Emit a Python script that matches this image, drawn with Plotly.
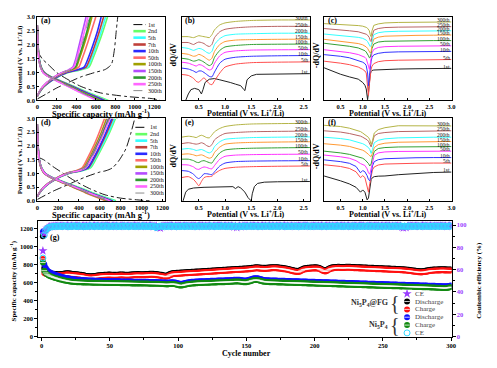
import plotly.graph_objects as go

W, H = 497, 368
FONT = "Liberation Serif"


def fx(p):
    return p / W


def fy(p):
    return 1 - p / H


# ---------------- (a) and (d): charge / discharge profiles ----------------
cycles_ad = ["1st", "2nd", "5th", "7th", "10th", "50th", "100th", "150th", "200th", "250th", "300th"]
colors_ad = ["#000000", "#66ff66", "#33ffff", "#c0403a", "#2a2aff", "#ff6a6a",
             "#a0a000", "#b44cff", "#2e9a2e", "#ff66ff", "#8c8c8c"]

chg_v = [0.15, 0.3, 0.5, 0.8, 1.0, 1.1, 1.2, 1.5, 2.0, 2.5, 3.0]
a_dis_v = [2.7, 2.0, 1.5, 1.2, 1.0, 0.85, 0.7, 0.5, 0.3, 0.15, 0.0]
d_dis_v = [2.8, 2.0, 1.5, 1.2, 1.0, 0.85, 0.7, 0.5, 0.3, 0.15, 0.0]

a_first_chg_cap = [0, 100, 200, 320, 450, 585, 700, 760, 790, 810, 825]
a_first_chg_v = [0.05, 0.25, 0.45, 0.65, 0.85, 1.0, 1.12, 1.3, 1.8, 2.5, 3.0]
a_first_dis_cap = [0, 50, 110, 200, 300, 450, 650, 920, 1190, 1260]
a_first_dis_v = [1.8, 1.5, 1.3, 1.0, 0.78, 0.5, 0.27, 0.14, 0.06, 0.0]

a_chg_caps = [
    [0, 25, 70, 185, 310, 440, 530, 570, 625, 675, 720],
    [0, 25, 70, 183, 305, 430, 515, 555, 610, 658, 700],
    [0, 24, 68, 180, 300, 420, 500, 540, 592, 638, 680],
    [0, 23, 66, 176, 292, 405, 480, 520, 572, 618, 655],
    [0, 21, 62, 165, 272, 365, 425, 460, 510, 555, 600],
    [0, 20, 60, 160, 262, 345, 400, 432, 480, 522, 560],
    [0, 19, 57, 155, 250, 322, 365, 395, 430, 465, 500],
    [0, 20, 59, 158, 258, 338, 390, 422, 468, 510, 545],
    [0, 19, 57, 155, 252, 328, 375, 405, 445, 485, 520],
    [0, 20, 58, 157, 256, 334, 385, 415, 458, 498, 535],
]
a_dis_caps = [
    [0, 8, 20, 40, 75, 140, 240, 380, 510, 620, 730],
    [0, 8, 20, 40, 73, 138, 235, 370, 500, 605, 710],
    [0, 8, 19, 38, 72, 135, 230, 362, 490, 592, 695],
    [0, 7, 18, 37, 70, 132, 225, 355, 480, 580, 680],
    [0, 7, 17, 35, 65, 125, 215, 338, 455, 550, 645],
    [0, 7, 17, 35, 65, 125, 215, 340, 458, 555, 650],
    [0, 7, 16, 33, 62, 120, 205, 325, 440, 532, 625],
    [0, 7, 17, 34, 63, 122, 210, 330, 445, 540, 635],
    [0, 6, 16, 33, 60, 118, 200, 318, 430, 520, 610],
    [0, 7, 17, 34, 63, 122, 208, 328, 442, 535, 628],
]

d_first_chg_cap = [0, 150, 300, 450, 600, 660, 720, 780, 850, 900, 935]
d_first_chg_v = [0.05, 0.35, 0.6, 0.85, 1.05, 1.1, 1.2, 1.45, 1.9, 2.5, 3.0]
d_first_dis_cap = [0, 60, 150, 250, 350, 500, 650, 800, 950, 1080]
d_first_dis_v = [1.6, 1.5, 1.25, 1.0, 0.75, 0.45, 0.22, 0.1, 0.04, 0.0]

d_chg_caps = [
    [0, 25, 70, 185, 305, 430, 510, 560, 630, 695, 750],
    [0, 25, 70, 183, 300, 425, 500, 550, 620, 685, 740],
    [0, 24, 68, 180, 295, 415, 490, 540, 608, 670, 725],
    [0, 23, 66, 178, 290, 410, 482, 532, 600, 660, 715],
    [0, 21, 62, 168, 272, 370, 430, 475, 540, 595, 645],
    [0, 21, 62, 170, 278, 382, 445, 492, 558, 615, 665],
    [0, 21, 63, 172, 282, 390, 455, 503, 570, 628, 680],
    [0, 21, 63, 173, 284, 393, 460, 508, 576, 634, 688],
    [0, 21, 64, 174, 286, 397, 465, 514, 583, 642, 697],
    [0, 21, 63, 173, 284, 394, 462, 510, 578, 636, 692],
]
d_dis_caps = [
    [0, 8, 20, 42, 78, 145, 250, 395, 530, 640, 755],
    [0, 8, 20, 41, 77, 143, 246, 388, 520, 628, 742],
    [0, 8, 19, 40, 75, 140, 240, 378, 508, 614, 725],
    [0, 8, 19, 40, 74, 138, 236, 372, 500, 605, 715],
    [0, 7, 17, 36, 67, 127, 217, 343, 460, 557, 658],
    [0, 7, 18, 37, 69, 130, 222, 350, 470, 570, 672],
    [0, 7, 18, 38, 71, 133, 228, 360, 482, 584, 690],
    [0, 7, 18, 38, 71, 134, 229, 362, 485, 588, 695],
    [0, 7, 18, 39, 72, 136, 232, 366, 491, 594, 702],
    [0, 7, 18, 38, 71, 134, 230, 363, 487, 590, 698],
]

# ---------------- (b),(c),(e),(f): dQ/dV curves (offset, a.u.) ----------------
cycles_dq = ["1st", "5th", "10th", "50th", "100th", "150th", "200th", "250th", "300th"]
colors_dq = ["#222222", "#ff4d4d", "#3333ff", "#ff33ff", "#33a033", "#ff9933",
             "#33ffff", "#b86464", "#b4b446"]

grid_be = [0.17, 0.3, 0.4, 0.45, 0.5, 0.55, 0.6, 0.65, 0.7, 0.75, 0.8, 0.9, 1.0, 1.2, 1.5, 2.0, 2.62]
b_first_v = [0.25, 0.3, 0.35, 0.42, 0.5, 0.55, 0.58, 0.62, 0.7, 0.8, 0.9, 1.0, 1.1, 1.2,
             1.3, 1.36, 1.38, 1.42, 1.5, 1.6, 2.0, 2.62]
b_first_y = [0, 6.6, 11, 12.3, 11, 6.6, 11, 18.3, 21.6, 22.3, 21, 20, 18.3, 16.6,
             15, 11, 10, 21, 25, 26.6, 27, 27.3]
b_curves = [
    [26.5, 25.5, 22.5, 19.5, 18.5, 21, 23, 20, 17, 16, 20, 28, 34, 37, 38.5, 39, 39.3],
    [33, 32, 30, 28.5, 30, 30, 28.5, 26.5, 24.5, 24, 29, 38, 42, 44, 45, 45.5, 45.8],
    [39, 38, 36, 35, 36.5, 36, 34.5, 32.5, 31, 32, 38, 45.5, 49, 50.5, 51.3, 51.6, 51.8],
    [43, 42, 40, 40.5, 41.5, 40.5, 39, 37, 35.5, 37, 44, 51, 54.5, 56, 57, 57.3, 57.5],
    [48, 47, 45, 45.5, 47, 46, 44.5, 42.5, 41, 43, 50, 57, 60, 61.5, 62, 62.3, 62.5],
    [54, 53, 51, 52, 53, 52.5, 51, 49, 48, 50, 57, 63, 66, 67.5, 68, 68.5, 68.5],
    [59, 59, 57, 58.5, 59.5, 59, 58, 56, 55, 57, 64, 70, 72.5, 74, 75, 75.5, 75.5],
    [65, 65, 64, 65, 66, 65.5, 65, 64.5, 64, 67, 72, 77, 79, 80.5, 81.5, 82, 82],
]

e_first_v = [0.2, 0.25, 0.3, 0.4, 0.6, 0.8, 1.0, 1.15, 1.2, 1.25, 1.3, 1.38, 1.44, 1.5,
             1.52, 1.56, 1.62, 1.75, 2.0, 2.62]
e_first_y = [0, 9, 12, 13.3, 14, 14, 14.3, 14.7, 12.7, 14.7, 13.3, 9, 3.3, 0,
             7.3, 14.7, 18, 19.3, 19.7, 20]
e_curves = [
    [24, 25, 22, 19, 15.5, 20, 24, 25, 25, 25.5, 28, 31.5, 33.5, 34.7, 35.3, 35.7, 36],
    [31.3, 30.5, 27.5, 24.5, 23, 25, 28, 28, 27.5, 27, 30, 36, 39, 40.5, 41, 41.3, 41.5],
    [37.3, 37, 35, 33, 32.5, 34, 35, 34.5, 33.5, 33, 36.5, 43, 46, 47.2, 47.7, 48, 48.2],
    [43, 43, 41.5, 40, 39.5, 41, 41.5, 40.5, 39.5, 39, 43, 49.5, 52.5, 53.7, 54.3, 54.7, 55],
    [48, 48.5, 47.5, 46.5, 47, 47.5, 46.5, 45, 44, 45, 50, 55.5, 58.5, 59.7, 60.3, 60.7, 61],
    [53.3, 54, 53, 52, 52.5, 53, 52, 50.5, 49.5, 51, 56, 61, 63.5, 64.5, 65.3, 65.7, 66],
    [59, 60, 59, 58.5, 59, 60, 59, 57, 56, 58, 63, 67, 69.5, 70.5, 71.3, 71.7, 72],
    [65.7, 66.7, 66, 65.3, 66.7, 67.7, 66.7, 65.3, 65, 68, 71.3, 74.7, 76.7, 78.3, 79.3, 79.7, 80],
]

grid_c = [0.13, 0.3, 0.5, 0.7, 0.9, 1.0, 1.05, 1.08, 1.11, 1.13, 1.15, 1.17, 1.19, 1.21,
          1.25, 1.35, 1.5, 1.8, 2.2, 2.6, 3.0]
c_curves = [
    [33.3, 30, 26.7, 24, 21.7, 18.3, 15.5, 11.7, 0.7, 8, 22, 27, 29.5, 30.5, 31, 31.3, 31.7, 32, 32.3, 32.5, 32.7],
    [40, 39.2, 38, 36.5, 34, 31.7, 30, 28, 15, 5, 16, 27, 32, 35, 37.5, 39.5, 40.5, 41, 41.3, 41.5, 41.7],
    [46.7, 46, 45, 43.5, 41, 39, 37.5, 35.5, 28, 15, 25, 35, 40, 44, 46.5, 48, 49, 49.5, 49.8, 50, 50],
    [51.7, 51, 50, 48.7, 46.8, 45, 44, 42.5, 39, 35, 31.7, 36, 43, 48.5, 52, 54, 54.8, 55.2, 55.5, 55.7, 55.7],
    [58.3, 57.5, 56.5, 55.2, 53.5, 51.7, 50.7, 49.3, 47.5, 45.5, 43.5, 44, 48, 53, 57.5, 59.5, 60.3, 60.7, 61, 61, 61],
    [62.3, 61.5, 60.5, 59.5, 58, 56.7, 55.8, 54.5, 53, 51, 49, 48.3, 50, 57, 62.5, 64.5, 65.5, 66, 66.3, 66.5, 66.7],
    [67.7, 67, 66.2, 65.3, 64.3, 63.3, 62.5, 61.5, 60, 58.5, 56.5, 55, 56, 61, 67, 69, 70, 70.5, 70.8, 71, 71],
    [73.3, 72.8, 72, 71, 70, 69, 68.5, 67.5, 66.5, 65.5, 64, 61, 60, 65, 71.5, 73.3, 74.3, 74.7, 75, 75, 75.2],
    [78.3, 78, 77.5, 77, 76.3, 75.7, 75.2, 74.5, 73.5, 72.5, 71, 67, 65, 71, 76.5, 78, 79, 79.5, 79.8, 80, 80],
]

grid_f = [0.13, 0.3, 0.5, 0.7, 0.85, 0.95, 1.0, 1.05, 1.1, 1.13, 1.16, 1.19, 1.22, 1.26,
          1.35, 1.5, 1.8, 2.2, 2.6, 3.0]
f_curves = [
    [25.7, 23.5, 20.7, 17.5, 14, 9, 11.3, 9, 1, 3, 15, 22, 24, 25, 25.5, 25.7, 27, 28.5, 29.3, 29.7],
    [37.3, 36.7, 35.5, 33.5, 30, 24, 26, 24, 15, 9, 18, 27, 32, 35, 37, 38, 38.5, 38.8, 39, 39],
    [42.3, 41.7, 40.5, 38.8, 35.5, 29, 31.3, 30, 26, 22, 20.7, 28, 36, 40.5, 42.5, 43.5, 44.2, 44.5, 44.7, 44.7],
    [47.3, 46.7, 45.5, 44, 41.5, 38.5, 37.3, 36.5, 33, 29, 27.5, 34, 42, 47, 49.5, 50.5, 51, 51.2, 51.3, 51.3],
    [51.3, 50.7, 49.5, 48, 46.3, 45, 44, 42.5, 40.5, 38.5, 36, 38, 45, 51, 54, 55, 55.6, 55.8, 56, 56],
    [59, 58.5, 57.5, 56.2, 54.5, 53.3, 52.3, 51, 49.5, 48, 46.5, 45.7, 49, 55, 58, 59.5, 60.5, 61, 61.2, 61.3],
    [65.7, 65.2, 64.3, 63, 61.3, 60, 59, 57.8, 56.5, 55, 53, 49, 53, 60, 62.5, 64, 65, 65.5, 65.7, 65.7],
    [72.3, 71.8, 71, 69.5, 68, 66.8, 65.7, 64.5, 63, 61.5, 59, 55.7, 60, 67, 69.5, 70.5, 71.5, 72, 72.2, 72.3],
    [78, 77.5, 76.7, 75, 73, 71.5, 70, 68.5, 67, 65.5, 63, 58, 62, 70, 73.5, 75.5, 77.5, 77.5, 77.3, 77.3],
]

# ---------------- (g): cycling performance ----------------
fg_discharge = [
    1110, 760, 730, 715, 708, 702, 699, 697, 695, 693,
    693, 691, 690, 692, 694, 696, 698, 700, 702, 700,
    698, 696, 694, 692, 691, 690, 688, 686, 684, 682,
    678, 674, 672, 670, 668, 667, 668, 670, 672, 674,
    676, 678, 680, 682, 683, 684, 685, 686, 687, 687,
    686, 685, 684, 684, 685, 686, 687, 688, 688, 687,
    686, 685, 685, 686, 687, 688, 689, 690, 691, 692,
    692, 691, 690, 690, 691, 692, 693, 694, 695, 696,
    696, 695, 694, 692, 690, 688, 686, 684, 680, 676,
    674, 677, 684, 692, 698, 702, 704, 705, 706, 707,
    708, 709, 710, 711, 712, 713, 714, 715, 716, 717,
    718, 719, 720, 720, 721, 722, 723, 724, 725, 726,
    727, 728, 729, 730, 731, 732, 733, 734, 735, 736,
    737, 738, 739, 740, 741, 742, 743, 744, 745, 746,
    747, 748, 748, 749, 750, 751, 752, 753, 754, 755,
    756, 757, 759, 761, 763, 765, 767, 768, 766, 764,
    763, 762, 761, 761, 762, 764, 766, 767, 768, 769,
    769, 768, 767, 765, 763, 761, 759, 757, 754, 751,
    748, 744, 740, 736, 733, 730, 728, 727, 731, 739,
    747, 753, 757, 759, 761, 763, 764, 765, 766, 767,
    767, 766, 763, 757, 749, 741, 735, 733, 739, 749,
    757, 763, 767, 769, 771, 772, 773, 773, 772, 771,
    771, 772, 773, 774, 774, 773, 772, 771, 770, 769,
    769, 768, 767, 767, 766, 765, 765, 764, 763, 763,
    762, 761, 761, 760, 759, 759, 758, 757, 757, 756,
    755, 755, 754, 753, 753, 752, 751, 751, 750, 749,
    749, 748, 747, 746, 745, 744, 743, 741, 739, 737,
    735, 733, 731, 729, 727, 725, 724, 723, 724, 726,
    728, 731, 734, 737, 739, 741, 742, 743, 744, 744,
    745, 745, 746, 746, 745, 745, 744, 744, 743, 743,
]
fg_charge = [
    860, 705, 695, 690, 688, 685, 684, 683, 682, 680,
    681, 679, 678, 680, 682, 684, 686, 688, 690, 688,
    686, 684, 682, 680, 679, 678, 676, 674, 672, 670,
    666, 662, 660, 658, 656, 655, 656, 658, 660, 662,
    664, 666, 668, 670, 671, 672, 673, 674, 675, 675,
    674, 673, 672, 672, 673, 674, 675, 676, 676, 675,
    674, 673, 673, 674, 675, 676, 677, 678, 679, 680,
    680, 679, 678, 678, 679, 680, 681, 682, 683, 684,
    684, 683, 682, 680, 678, 676, 674, 672, 668, 664,
    662, 665, 672, 680, 686, 690, 692, 693, 694, 695,
    696, 697, 698, 699, 700, 701, 702, 703, 704, 705,
    706, 707, 708, 708, 709, 710, 711, 712, 713, 714,
    715, 716, 717, 718, 719, 720, 721, 722, 723, 724,
    725, 726, 727, 728, 729, 730, 731, 732, 733, 734,
    735, 736, 736, 737, 738, 739, 740, 741, 742, 743,
    744, 745, 747, 749, 751, 753, 755, 756, 754, 752,
    751, 750, 749, 749, 750, 752, 754, 755, 756, 757,
    757, 756, 755, 753, 751, 749, 747, 745, 742, 739,
    736, 732, 728, 724, 721, 718, 716, 715, 719, 727,
    735, 741, 745, 747, 749, 751, 752, 753, 754, 755,
    755, 754, 751, 745, 737, 729, 723, 721, 727, 737,
    745, 751, 755, 757, 759, 760, 761, 761, 760, 759,
    759, 760, 761, 762, 762, 761, 760, 759, 758, 757,
    757, 756, 755, 755, 754, 753, 753, 752, 751, 751,
    750, 749, 749, 748, 747, 747, 746, 745, 745, 744,
    743, 743, 742, 741, 741, 740, 739, 739, 738, 737,
    737, 736, 735, 734, 733, 732, 731, 729, 727, 725,
    723, 721, 719, 717, 715, 713, 712, 711, 712, 714,
    716, 719, 722, 725, 727, 729, 730, 731, 732, 732,
    733, 733, 734, 734, 733, 733, 732, 732, 731, 731,
]
np_discharge = [
    1160, 800, 762, 738, 722, 712, 704, 697, 690, 684,
    678, 673, 668, 664, 660, 656, 652, 648, 645, 642,
    640, 638, 636, 634, 632, 630, 629, 628, 627, 626,
    625, 624, 623, 622, 622, 621, 620, 620, 619, 619,
    618, 618, 617, 617, 616, 616, 615, 615, 615, 614,
    614, 613, 613, 613, 612, 612, 612, 611, 611, 611,
    610, 610, 610, 609, 609, 609, 608, 608, 608, 608,
    607, 607, 607, 607, 606, 606, 606, 606, 605, 605,
    605, 605, 604, 604, 603, 603, 602, 601, 600, 599,
    598, 597, 598, 600, 601, 601, 600, 598, 594, 590,
    586, 584, 585, 589, 593, 597, 600, 602, 604, 606,
    607, 608, 609, 610, 611, 612, 612, 613, 614, 614,
    615, 616, 616, 617, 617, 618, 619, 619, 620, 620,
    621, 621, 622, 622, 623, 624, 624, 625, 626, 627,
    628, 629, 630, 630, 628, 626, 624, 622, 621, 622,
    624, 628, 633, 638, 642, 645, 646, 645, 642, 638,
    634, 630, 627, 625, 624, 623, 622, 622, 621, 621,
    620, 620, 619, 619, 618, 618, 617, 617, 616, 616,
    615, 615, 614, 614, 613, 613, 612, 612, 611, 611,
    610, 610, 609, 609, 608, 608, 607, 607, 606, 606,
    605, 605, 604, 604, 603, 603, 602, 602, 601, 601,
    600, 600, 599, 599, 598, 598, 597, 597, 596, 596,
    595, 595, 594, 594, 593, 593, 592, 592, 591, 591,
    590, 590, 589, 589, 588, 588, 587, 587, 586, 586,
    585, 585, 584, 584, 583, 583, 582, 582, 581, 581,
    580, 580, 579, 579, 578, 578, 577, 577, 576, 576,
    575, 575, 574, 574, 573, 573, 572, 572, 571, 571,
    570, 570, 569, 569, 568, 568, 567, 567, 566, 566,
    565, 565, 564, 564, 563, 563, 562, 562, 561, 561,
    560, 559, 558, 557, 556, 556, 558, 561, 564, 567,
]
np_charge = [
    820, 730, 705, 690, 680, 672, 666, 660, 655, 650,
    645, 640, 636, 632, 628, 625, 622, 618, 615, 612,
    610, 608, 606, 605, 604, 603, 602, 601, 601, 600,
    600, 599, 599, 598, 598, 598, 597, 597, 597, 596,
    596, 596, 595, 595, 595, 594, 594, 594, 594, 593,
    593, 593, 593, 592, 592, 592, 592, 591, 591, 591,
    591, 590, 590, 590, 590, 589, 589, 589, 589, 588,
    588, 588, 588, 588, 587, 587, 587, 587, 586, 586,
    586, 586, 585, 585, 584, 584, 583, 582, 581, 580,
    579, 578, 579, 581, 582, 582, 581, 579, 575, 571,
    567, 565, 566, 570, 574, 578, 581, 583, 585, 587,
    588, 589, 590, 591, 592, 593, 593, 594, 595, 595,
    596, 597, 597, 598, 598, 599, 600, 600, 601, 601,
    602, 602, 603, 603, 604, 605, 605, 606, 607, 608,
    609, 610, 611, 611, 609, 607, 605, 603, 602, 603,
    605, 609, 614, 619, 623, 626, 627, 626, 623, 619,
    615, 611, 608, 606, 605, 604, 603, 603, 602, 602,
    601, 601, 600, 600, 599, 599, 598, 598, 597, 597,
    596, 596, 595, 595, 594, 594, 593, 593, 592, 592,
    591, 591, 590, 590, 589, 589, 588, 588, 587, 587,
    586, 586, 585, 585, 584, 584, 583, 583, 582, 582,
    581, 581, 580, 580, 579, 579, 578, 578, 577, 577,
    576, 576, 575, 575, 574, 574, 573, 573, 572, 572,
    571, 571, 570, 570, 569, 569, 568, 568, 567, 567,
    566, 566, 565, 565, 564, 564, 563, 563, 562, 562,
    561, 561, 560, 560, 559, 559, 558, 558, 557, 557,
    556, 556, 555, 555, 554, 554, 553, 553, 552, 552,
    551, 551, 550, 550, 549, 549, 548, 548, 547, 547,
    546, 546, 545, 545, 544, 544, 543, 543, 542, 542,
    541, 540, 539, 538, 537, 537, 539, 542, 545, 548,
]
fg_ce = [
    77.0, 92.5, 95.8, 97.3, 98.1, 98.6, 99.0, 98.7, 99.3, 99.5,
    99.1, 99.6, 98.9, 99.4, 99.8, 99.2, 98.8, 99.5, 100.1, 99.3,
    99.0, 99.7, 99.4, 98.9, 99.6, 100.2, 99.1, 99.5, 98.7, 99.4,
    99.8, 99.2, 99.6, 99.0, 99.9, 99.3, 98.8, 99.5, 100.0, 99.2,
    99.4, 99.7, 98.9, 99.3, 99.8, 99.1, 99.6, 100.3, 99.2, 99.5,
    98.8, 99.4, 99.9, 99.1, 99.6, 99.3, 98.7, 99.5, 100.1, 99.2,
    99.6, 99.0, 99.4, 99.8, 99.2, 98.9, 99.5, 100.2, 99.3, 99.7,
    99.1, 99.5, 98.8, 99.4, 99.9, 99.2, 99.6, 99.0, 99.7, 100.0,
    99.3, 98.6, 99.2, 99.5, 97.8, 98.2, 97.4, 98.9, 99.6, 99.1,
    99.4, 99.8, 99.0, 99.6, 100.2, 99.3, 98.7, 99.5, 99.1, 99.8,
    99.2, 99.6, 98.9, 99.3, 100.0, 99.4, 99.1, 99.7, 99.0, 99.5,
    99.8, 99.2, 99.6, 98.8, 99.4, 100.1, 99.3, 99.7, 99.0, 99.5,
    99.1, 99.6, 99.9, 99.2, 98.7, 99.4, 99.8, 99.0, 99.5, 100.2,
    99.3, 99.6, 98.9, 99.4, 99.8, 99.1, 99.5, 99.2, 99.7, 99.0,
    98.4, 99.3, 97.9, 99.1, 99.6, 98.6, 99.4, 99.0, 99.8, 99.3,
    99.5, 98.9, 99.7, 99.2, 100.1, 99.4, 99.0, 99.6, 99.3, 98.8,
    99.5, 99.9, 99.2, 99.6, 98.9, 99.4, 100.0, 99.1, 99.7, 99.3,
    99.0, 99.6, 99.2, 99.8, 99.4, 98.7, 99.5, 100.1, 99.2, 99.6,
    98.9, 99.4, 99.7, 99.1, 99.5, 98.8, 99.3, 99.9, 99.2, 99.6,
    99.0, 99.5, 100.2, 99.3, 99.7, 99.1, 98.8, 99.4, 99.8, 99.2,
    99.6, 99.0, 99.5, 99.2, 99.9, 99.3, 98.7, 99.4, 100.0, 99.1,
    99.7, 99.2, 99.5, 98.9, 99.6, 99.3, 99.8, 99.0, 99.4, 100.1,
    99.2, 99.6, 99.0, 99.5, 99.8, 99.1, 98.8, 99.4, 99.7, 99.3,
    99.5, 99.0, 99.6, 100.2, 99.2, 99.7, 99.1, 98.9, 99.4, 99.8,
    99.3, 99.6, 99.0, 99.5, 99.9, 99.2, 99.6, 98.8, 99.4, 99.7,
    99.1, 99.5, 100.0, 99.3, 99.7, 99.0, 99.4, 98.9, 99.6, 99.2,
    99.8, 99.1, 99.5, 98.3, 97.6, 98.5, 97.9, 99.0, 99.4, 99.7,
    99.2, 99.6, 99.0, 99.5, 99.8, 99.1, 98.7, 99.4, 100.1, 99.3,
    99.6, 99.0, 99.5, 99.2, 99.8, 99.3, 98.9, 99.5, 99.7, 99.1,
    99.4, 99.8, 99.0, 99.6, 99.2, 99.5, 98.8, 99.3, 99.7, 99.4,
]
np_ce = [
    70.5, 91.0, 95.2, 96.8, 97.6, 98.2, 98.5, 98.7, 98.9, 99.0,
    99.1, 98.8, 99.3, 99.0, 98.7, 99.2, 99.4, 98.9, 99.1, 98.6,
    99.3, 99.0, 98.8, 99.5, 99.1, 98.7, 99.2, 99.4, 98.9, 99.0,
    98.6, 99.2, 99.0, 98.8, 99.3, 99.5, 98.9, 99.1, 98.7, 99.2,
    99.4, 98.8, 99.0, 99.3, 98.6, 99.1, 99.5, 98.9, 99.2, 98.7,
    99.0, 99.3, 98.8, 99.1, 99.4, 98.7, 99.2, 99.0, 98.9, 99.5,
    98.8, 99.1, 99.3, 98.6, 99.0, 99.4, 98.9, 99.2, 98.7, 99.1,
    99.3, 98.9, 99.0, 99.5, 98.8, 99.2, 99.0, 98.7, 99.3, 99.1,
    98.9, 99.2, 98.4, 97.9, 98.6, 99.0, 99.3, 98.8, 99.1, 98.6,
    99.2, 99.0, 98.7, 99.4, 99.1, 98.8, 99.3, 99.0, 98.6, 99.2,
    99.0, 98.8, 99.3, 99.1, 98.7, 99.4, 98.9, 99.2, 99.0, 98.8,
    99.3, 99.0, 98.6, 99.2, 99.4, 98.9, 99.1, 98.7, 99.3, 99.0,
    98.8, 99.2, 99.0, 99.5, 98.9, 99.1, 98.7, 99.3, 99.0, 98.8,
    99.2, 99.4, 98.9, 99.0, 99.3, 98.7, 99.1, 99.4, 98.8, 99.0,
    99.3, 98.9, 99.1, 98.6, 99.2, 99.0, 98.8, 99.3, 99.1, 98.7,
    99.2, 99.0, 99.4, 98.8, 99.1, 98.9, 99.3, 99.0, 98.7, 99.2,
    99.0, 98.8, 99.3, 99.1, 98.9, 99.4, 99.0, 98.7, 99.2, 99.1,
    98.9, 99.3, 99.0, 98.8, 99.2, 99.4, 98.9, 99.1, 98.7, 99.3,
    99.0, 98.8, 99.2, 99.1, 98.9, 99.3, 99.0, 98.6, 99.2, 99.0,
    98.8, 99.3, 99.1, 98.9, 99.4, 99.0, 98.7, 99.2, 99.0, 98.8,
    99.3, 99.1, 98.9, 99.2, 99.0, 98.7, 99.4, 99.1, 98.8, 99.0,
    99.2, 98.9, 99.3, 99.0, 98.8, 99.1, 99.4, 98.9, 99.2, 99.0,
    98.7, 99.3, 99.0, 99.2, 98.9, 99.1, 98.8, 99.4, 99.0, 99.2,
    98.9, 99.0, 99.3, 98.8, 99.1, 99.2, 98.9, 99.0, 99.4, 98.8,
    99.1, 99.3, 98.9, 99.0, 99.2, 98.8, 99.3, 99.1, 98.9, 99.0,
    99.2, 98.9, 99.1, 99.3, 98.8, 99.0, 99.2, 98.9, 99.4, 99.1,
    98.8, 99.0, 99.3, 99.1, 98.9, 99.2, 99.0, 98.7, 99.3, 99.1,
    99.0, 98.8, 99.2, 99.1, 98.9, 99.3, 99.0, 99.2, 98.8, 99.1,
    99.3, 99.0, 98.9, 99.2, 99.1, 98.8, 99.3, 99.0, 99.2, 98.9,
    99.1, 99.0, 99.3, 98.8, 99.2, 99.0, 98.9, 99.1, 99.3, 99.0,
]

g_legend_labels = ["CE", "Discharge", "Charge", "Discharge", "Charge", "CE"]

# ---------------- figure ----------------
fig = go.Figure()
annotations = []
shapes = []


def add_line(x, y, xa, ya, color, width=1.5, dash="solid", shape="spline", smoothing=0.7):
    fig.add_trace(go.Scatter(
        x=x, y=y, mode="lines", xaxis=xa, yaxis=ya, showlegend=False, hoverinfo="skip",
        line=dict(color=color, width=width, dash=dash, shape=shape,
                  smoothing=smoothing if shape == "spline" else None)))


def style_for(name, color):
    if name == "1st":
        return dict(color=color, width=0.9, dash="dashdot")
    if name == "300th":
        return dict(color=color, width=1.0, dash="dash")
    return dict(color=color, width=1.6, dash="solid")


# (a) / (d)
for xa, ya, f_cc, f_cv, f_dc, f_dv, chg, dis, dis_v in [
    ("x", "y", a_first_chg_cap, a_first_chg_v, a_first_dis_cap, a_first_dis_v, a_chg_caps, a_dis_caps, a_dis_v),
    ("x4", "y4", d_first_chg_cap, d_first_chg_v, d_first_dis_cap, d_first_dis_v, d_chg_caps, d_dis_caps, d_dis_v),
]:
    st = style_for("1st", colors_ad[0])
    add_line(f_cc, f_cv, xa, ya, st["color"], st["width"], st["dash"])
    add_line(f_dc, f_dv, xa, ya, st["color"], st["width"], st["dash"])
    for i, name in enumerate(cycles_ad[1:]):
        st = style_for(name, colors_ad[i + 1])
        add_line(chg[i], chg_v, xa, ya, st["color"], st["width"], st["dash"])
        add_line(dis[i], dis_v, xa, ya, st["color"], st["width"], st["dash"])

# (b) (e)
add_line(b_first_v, b_first_y, "x2", "y2", colors_dq[0], 1.0, shape="linear")
add_line(e_first_v, e_first_y, "x5", "y5", colors_dq[0], 1.0, shape="linear")
for i, name in enumerate(cycles_dq[1:]):
    add_line(grid_be, b_curves[i], "x2", "y2", colors_dq[i + 1], 1.0, smoothing=0.6)
    add_line(grid_be, e_curves[i], "x5", "y5", colors_dq[i + 1], 1.0, smoothing=0.6)
# (c) (f)
for i, name in enumerate(cycles_dq):
    add_line(grid_c, c_curves[i], "x3", "y3", colors_dq[i], 1.0, shape="linear")
    add_line(grid_f, f_curves[i], "x6", "y6", colors_dq[i], 1.0, shape="linear")

# dQ/dV labels at the right end of each curve
label_sets = [
    ("x2", "y2", [b_first_y] + b_curves, 2.62),
    ("x5", "y5", [e_first_y] + e_curves, 2.62),
    ("x3", "y3", c_curves, 3.0),
    ("x6", "y6", f_curves, 3.0),
]
for xa, ya, curves, xr in label_sets:
    for name, cur in zip(cycles_dq, curves):
        annotations.append(dict(
            x=xr, y=cur[-1] + 1.8, xref=xa, yref=ya, text=name, showarrow=False,
            xanchor="right", yanchor="middle", xshift=-1, borderpad=0,
            font=dict(family=FONT, size=5.5, color="#111")))


# (g)
def g_markers(vals, ya, sym, size, color, lw, lc):
    fig.add_trace(go.Scatter(x=list(range(1, len(vals) + 1)), y=vals, mode="markers", xaxis="x7", yaxis=ya,
                             showlegend=False, hoverinfo="skip",
                             marker=dict(symbol=sym, size=size, color=color, line=dict(width=lw, color=lc))))


g_markers(fg_ce, "y8", "star", 7, "#9a3cff", 0, "#9a3cff")
g_markers(np_ce, "y8", "circle-open", 6, "#30d8ff", 1, "#30d8ff")
g_markers(fg_discharge, "y7", "circle", 6, "#000000", 0, "#000000")
g_markers(fg_charge, "y7", "circle", 6, "#ff1010", 0, "#ff1010")
g_markers(fg_charge, "y7", "line-ew", 4, "#ffffff", 0.8, "#ffffff")
g_markers(np_discharge, "y7", "circle", 6, "#1010ff", 0, "#1010ff")
g_markers(np_charge, "y7", "circle", 6, "#128a12", 0, "#128a12")
g_markers(np_charge, "y7", "line-ew", 4, "#ffffff", 0.8, "#ffffff")

# (g) legend markers on a small auxiliary axis
leg_sym = ["star", "circle", "circle", "circle", "circle", "circle-open"]
leg_col = ["#9a3cff", "#000000", "#ff1010", "#1010ff", "#128a12", "#30d8ff"]
leg_pos = [5.5, 4.5, 3.5, 2.5, 1.5, 0.5]
for s, c, p in zip(leg_sym, leg_col, leg_pos):
    fig.add_trace(go.Scatter(x=[0.5], y=[p], mode="markers", xaxis="x9", yaxis="y9", showlegend=False,
                             hoverinfo="skip",
                             marker=dict(symbol=s, size=7 if s == "star" else 6, color=c,
                                         line=dict(width=1 if s == "circle-open" else 0, color=c))))
    if s == "circle":
        fig.add_trace(go.Scatter(x=[0.5], y=[p], mode="markers", xaxis="x9", yaxis="y9", showlegend=False,
                                 hoverinfo="skip",
                                 marker=dict(symbol="line-ew", size=4, color="#ffffff",
                                             line=dict(width=0.8, color="#ffffff"))))
leg_row_px = [295.3, 303.3, 311.3, 319.3, 327.3, 335.3]
for lab, rp in zip(g_legend_labels, leg_row_px):
    annotations.append(dict(x=fx(417), y=fy(rp), xref="paper", yref="paper", text=lab, showarrow=False,
                            xanchor="left", yanchor="middle", borderpad=0,
                            font=dict(family=FONT, size=7, color="#444")))
annotations.append(dict(x=fx(393), y=fy(305), xref="paper", yref="paper",
                        text="<b>Ni<sub>5</sub>P<sub>4</sub>@FG</b>", showarrow=False, xanchor="right",
                        yanchor="middle", font=dict(family=FONT, size=8, color="#333")))
annotations.append(dict(x=fx(393), y=fy(327), xref="paper", yref="paper",
                        text="<b>Ni<sub>5</sub>P<sub>4</sub></b>", showarrow=False, xanchor="right",
                        yanchor="middle", font=dict(family=FONT, size=8, color="#333")))
for by in (304.3, 327.3):
    annotations.append(dict(x=fx(397.5), y=fy(by), xref="paper", yref="paper", text="{", showarrow=False,
                            xanchor="center", yanchor="middle", font=dict(family=FONT, size=20, color="#333")))

# manual legends for (a) and (d)
for rows, sx0, sx1, tx in [
    ([21, 27.7, 34.3, 41.3, 48, 54.7, 61.3, 68.3, 75, 81.7, 88.3], 133, 145.5, 147),
    ([125.7, 132.7, 139.3, 146, 152.7, 159.3, 166, 172.7, 179.3, 186, 192.7], 135, 147, 149),
]:
    for name, col, ry in zip(cycles_ad, colors_ad, rows):
        st = style_for(name, col)
        shapes.append(dict(type="line", xref="paper", yref="paper", x0=fx(sx0), x1=fx(sx1), y0=fy(ry), y1=fy(ry),
                           line=dict(color=st["color"], width=2.6 if st["dash"] == "solid" else 1.0,
                                     dash=st["dash"])))
        annotations.append(dict(x=fx(tx), y=fy(ry), xref="paper", yref="paper", text=name, showarrow=False,
                                xanchor="left", yanchor="middle", borderpad=0,
                                font=dict(family=FONT, size=6, color="#111")))

# panel labels
for lab, px, py in [("(a)", 37, 17), ("(b)", 183.5, 17), ("(c)", 327.5, 17),
                    ("(d)", 37, 121), ("(e)", 183.5, 121), ("(f)", 327.5, 121), ("(g)", 47, 238)]:
    annotations.append(dict(x=fx(px), y=fy(py), xref="paper", yref="paper", text="<b>%s</b>" % lab,
                            showarrow=False, xanchor="left", yanchor="middle",
                            font=dict(family=FONT, size=8, color="black")))


# axis titles
def title(text, px, py, size=8, angle=0):
    annotations.append(dict(x=fx(px), y=fy(py), xref="paper", yref="paper", text="<b>%s</b>" % text,
                            showarrow=False, xanchor="center", yanchor="middle", textangle=angle,
                            font=dict(family=FONT, size=size, color="black")))


cap_t = "Specific capacity (mAh g<sup>-1</sup>)"
pot_t = "Potential (V vs. Li<sup>+</sup>/Li)"
title(cap_t, 100, 111.5, 8.5)
title(cap_t, 100, 214.5, 8.5)
title(pot_t, 246.7, 111.5, 8)
title(pot_t, 390.5, 111.5, 8)
title(pot_t, 246.7, 214.5, 8)
title(pot_t, 390.5, 214.5, 8)
title(pot_t, 18.5, 56, 7, -90)
title(pot_t, 18.5, 159, 7, -90)
title("dQ/dV", 173.5, 52, 8, -90)
title("dQ/dV", 173.5, 155, 8, -90)
title("-dQ/dV", 318, 52, 8, -90)
title("-dQ/dV", 318, 155, 8, -90)
title("Cycle number", 247, 356, 8)
title(cap_t, 12, 282, 7, -90)
title("Coulombic efficiency (%)", 482, 282, 7, -90)

TICKF = dict(family=FONT, size=6.5, color="black", weight="bold")


def axis(domain, anchor, **kw):
    d = dict(domain=domain, anchor=anchor, showline=True, linecolor="black", linewidth=1, mirror=True,
             ticks="inside", ticklen=2, tickwidth=0.8, tickcolor="black", tickfont=TICKF,
             showgrid=False, zeroline=False)
    d.update(kw)
    return d


A_X = [fx(35.7), fx(165)]
B_X = [fx(181.7), fx(311.7)]
C_X = [fx(326), fx(455)]
TOP_Y = [fy(98.3), fy(13.3)]
MID_Y = [fy(200.7), fy(116.7)]
G_X = [fx(36.7), fx(455)]
G_Y = [fy(339), fy(221.7)]

dq_y = dict(range=[0, 85], showticklabels=False, ticks="")
be_x = dict(range=[0.17, 2.62], tick0=0.5, dtick=0.5, tickformat=".1f")
cf_x = dict(range=[0.13, 3.0], tick0=0.5, dtick=0.5, tickformat=".1f")

fig.update_layout(
    width=W, height=H, autosize=False, margin=dict(l=0, r=0, t=0, b=0),
    paper_bgcolor="white", plot_bgcolor="white", showlegend=False,
    xaxis=axis(A_X, "y", range=[0, 1310], tick0=0, dtick=200),
    yaxis=axis(TOP_Y, "x", range=[0, 3], dtick=0.5, tickformat=".1f"),
    xaxis2=axis(B_X, "y2", **be_x),
    yaxis2=axis(TOP_Y, "x2", **dq_y),
    xaxis3=axis(C_X, "y3", **cf_x),
    yaxis3=axis(TOP_Y, "x3", **dq_y),
    xaxis4=axis(A_X, "y4", range=[0, 1225], tick0=0, dtick=200),
    yaxis4=axis(MID_Y, "x4", range=[0, 3], dtick=0.5, tickformat=".1f"),
    xaxis5=axis(B_X, "y5", **be_x),
    yaxis5=axis(MID_Y, "x5", **dq_y),
    xaxis6=axis(C_X, "y6", **cf_x),
    yaxis6=axis(MID_Y, "x6", **dq_y),
    xaxis7=axis(G_X, "y7", range=[-2.4, 300.3], tick0=0, dtick=50, ticks="outside", ticklen=3,
                minor=dict(dtick=25, ticklen=2, ticks="outside", tickcolor="black")),
    yaxis7=axis(G_Y, "x7", range=[0, 1275], dtick=200, ticks="outside", ticklen=3, mirror=False,
                minor=dict(dtick=100, ticklen=2, ticks="outside", tickcolor="black")),
    yaxis8=axis(G_Y, "x7", overlaying="y7", side="right", range=[0, 103.3], dtick=20, ticks="outside",
                ticklen=3, mirror=False,
                tickfont=dict(family=FONT, size=6.5, color="#9a3cff", weight="bold"),
                minor=dict(dtick=10, ticklen=2, ticks="outside", tickcolor="black")),
    xaxis9=dict(domain=[fx(405), fx(415)], anchor="y9", range=[0, 1], visible=False, fixedrange=True),
    yaxis9=dict(domain=[fy(339.3), fy(291.3)], anchor="x9", range=[0, 6], visible=False, fixedrange=True),
    annotations=annotations,
    shapes=shapes,
)

fig.write_html("out.html", config={"displayModeBar": False},
               post_script="document.body.style.margin='0';document.body.style.padding='0';")
